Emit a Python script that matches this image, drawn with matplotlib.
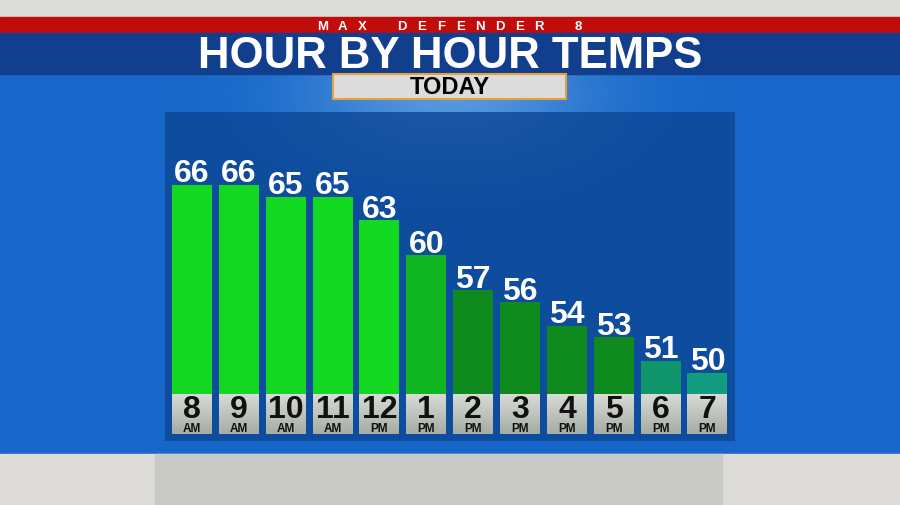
import numpy as np
import matplotlib
matplotlib.use("Agg")
import matplotlib.pyplot as plt
import matplotlib.transforms as mtransforms
from matplotlib.patches import Rectangle

# Hourly forecast
hours = ["8", "9", "10", "11", "12", "1", "2", "3", "4", "5", "6", "7"]
periods = ["AM", "AM", "AM", "AM", "PM", "PM", "PM", "PM", "PM", "PM", "PM", "PM"]
temps = [66, 66, 65, 65, 63, 60, 57, 56, 54, 53, 51, 50]
bar_colors = ["#12d822", "#12d822", "#12d822", "#12d822", "#12d822", "#10b522",
              "#0e8a1f", "#0e8a1f", "#0e8a1f", "#0e8a1f", "#10946a", "#129c80"]

W, H = 900, 506
fig = plt.figure(figsize=(9, 5.06), dpi=100)

# Background axes in pixel units (y down)
bg = fig.add_axes([0, 0, 1, 1])
bg.set_xlim(0, W)
bg.set_ylim(H, 0)
bg.axis("off")

# Sky: flat blue with a soft glow behind the "TODAY" tab
yy, xx = np.mgrid[0:H, 0:W]
glow = np.exp(-(((xx - 450) / 140.0) ** 2 + ((yy - 95) / 70.0) ** 2))
base = np.array([22, 103, 201]) / 255.0
light = np.array([150, 200, 245]) / 255.0
sky = base + (light - base) * (0.5 * glow)[..., None]
bg.imshow(sky, extent=(0, W, H, 0), aspect="auto", zorder=0)

# Header bands
bg.add_patch(Rectangle((0, 0), W, 18, color="#dcdcda", zorder=1))
bg.add_patch(Rectangle((0, 18), W, 16, color="#c20b0b", zorder=1))
bg.add_patch(Rectangle((0, 34), W, 41, color="#113f8e", zorder=1))

# Bottom gray strip
bg.add_patch(Rectangle((0, 455), W, 51, color="#dddcd8", zorder=1))
bg.add_patch(Rectangle((155, 455), 567, 51, color="#c9cac8", zorder=1))

# Spaced-out station tag
tag = "MAX DEFENDER 8"
for x, ch in zip(np.linspace(323, 578, len(tag)), tag):
    bg.text(x, 26.5, ch, color="white", fontsize=9.5, fontweight="bold",
            family="Liberation Sans", ha="center", va="center", zorder=3)

bg.text(450, 56.5, "HOUR BY HOUR TEMPS", color="white", fontsize=31.5,
        fontweight="bold", family="Liberation Sans", ha="center", va="center", zorder=3)

# TODAY tab
bg.add_patch(Rectangle((333, 75), 233, 25, facecolor="#dcdcdc", edgecolor="#e5a236",
                       linewidth=1.5, zorder=2))
bg.text(450, 87.5, "TODAY", color="black", fontsize=17, fontweight="bold",
        family="Liberation Sans", ha="center", va="center", zorder=3)

# Bar panel, placed over the pixel area 165..735 x 113..442
px_l, px_r, px_t, px_b = 165, 735, 113, 442
ax = fig.add_axes([px_l / W, 1 - px_b / H, (px_r - px_l) / W, (px_b - px_t) / H])
ax.set_facecolor((12 / 255, 70 / 255, 148 / 255, 0.8))
for s in ax.spines.values():
    s.set_visible(False)
ax.set_xticks([])
ax.set_yticks([])

# pixel <-> temperature scale (66 at y=186, 11.72 px per degree)
def temp_at(py):
    return 66 - (py - 186) / 11.72

step = 46.86
x = np.arange(len(temps))
base_t = temp_at(435)
bar_w = 40 / step
ax.bar(x, np.array(temps) - base_t, bottom=base_t, width=bar_w, color=bar_colors, zorder=2)

# Gray label boxes with a vertical gradient
box_top = temp_at(395)
boxes = ax.bar(x, box_top - base_t, bottom=base_t, width=bar_w, color="#c6c9c4", zorder=3)
top_c = np.array([216, 219, 214]) / 255.0
bot_c = np.array([166, 172, 164]) / 255.0
grad = np.linspace(0, 1, 64)[:, None, None]
gcol = top_c + (bot_c - top_c) * grad
for b in boxes:
    im = ax.imshow(np.repeat(gcol, 2, axis=1), aspect="auto", zorder=4,
                   extent=(b.get_x(), b.get_x() + b.get_width(), base_t, box_top))
    im.set_clip_path(b)
ax.set_xlim((px_l - 192) / step, (px_r - 192) / step)
ax.set_ylim(temp_at(px_b), temp_at(px_t))

# Temperature values above the bars
for i, t in enumerate(temps):
    ax.annotate(str(t), (i, t), xytext=(0, 3.5), textcoords="offset pixels",
                ha="center", va="baseline", color="white", fontsize=23,
                fontweight="bold", family="Liberation Sans", zorder=5)

# Hour labels inside the gray boxes
trans = mtransforms.blended_transform_factory(ax.transData, bg.transData)
for i, (h, p) in enumerate(zip(hours, periods)):
    ax.text(i, 410, h, transform=trans, ha="center", va="center", color="#111111",
            fontsize=23, fontweight="bold",
            family=["Liberation Sans Narrow", "Liberation Sans"], zorder=5)
    ax.text(i, 429.5, p, transform=trans, ha="center", va="center", color="#111111",
            fontsize=8.5, fontweight="bold", family="Liberation Sans", zorder=5)

fig.savefig("out.png", dpi=100)
